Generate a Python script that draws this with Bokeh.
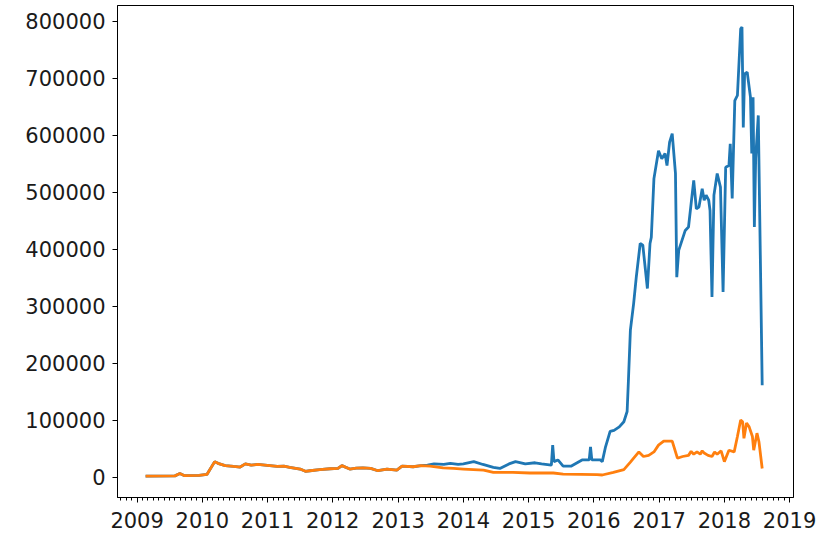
from datetime import datetime
from bokeh.plotting import figure
from bokeh.models import FixedTicker, DatetimeTickFormatter, Range1d
from bokeh.embed import file_html
from bokeh.resources import INLINE

# ---- data (x in decimal years) ----
orange_t = [2009.13, 2009.58, 2009.655, 2009.72, 2009.95, 2010.07, 2010.19, 2010.24,
            2010.35, 2010.48, 2010.58, 2010.66, 2010.75, 2010.85, 2010.96, 2011.15,
            2011.25, 2011.34, 2011.50, 2011.58, 2011.65, 2011.80, 2011.96, 2012.08,
            2012.14, 2012.26, 2012.36, 2012.46, 2012.58, 2012.69, 2012.83, 2012.98,
            2013.06, 2013.23, 2013.35, 2013.49, 2013.69, 2013.85, 2014.00, 2014.31,
            2014.46, 2014.76, 2015.02, 2015.38, 2015.53, 2015.80, 2016.05, 2016.13,
            2016.30, 2016.46, 2016.56, 2016.61, 2016.69, 2016.76, 2016.84, 2016.92,
            2016.99, 2017.07, 2017.20, 2017.28, 2017.36, 2017.45, 2017.49, 2017.53,
            2017.58, 2017.63, 2017.66, 2017.69, 2017.75, 2017.81, 2017.85, 2017.89,
            2017.95, 2018.00, 2018.07, 2018.15, 2018.20, 2018.25, 2018.28, 2018.30,
            2018.34, 2018.38, 2018.43, 2018.45, 2018.50, 2018.53, 2018.58]
orange_v = [1500, 2000, 6000, 2500, 3000, 4500, 27000, 24000,
            20000, 18500, 17500, 23000, 21000, 22000, 21000, 18500,
            19000, 17000, 14000, 10000, 11000, 13000, 14500, 15000,
            20000, 14000, 15500, 16000, 15000, 11000, 14000, 12000,
            19000, 18000, 20000, 19000, 16000, 15000, 14000, 12000,
            8000, 8000, 7000, 7000, 5000, 4500, 4000, 3500,
            8000, 13000, 26000, 33000, 44000, 36000, 38000, 44000,
            56000, 63000, 63000, 33000, 36000, 38000, 45000, 40000,
            44000, 40000, 46000, 42000, 38000, 36000, 44000, 40000,
            46000, 27000, 47000, 44000, 71000, 100000, 97000, 68000,
            95000, 88000, 71000, 47000, 77000, 62000, 15000]

blue_t = [2009.13, 2009.58, 2009.655, 2009.72, 2009.95, 2010.07, 2010.19, 2010.24,
          2010.35, 2010.48, 2010.58, 2010.66, 2010.75, 2010.85, 2010.96, 2011.15,
          2011.25, 2011.34, 2011.50, 2011.58, 2011.65, 2011.80, 2011.96, 2012.08,
          2012.14, 2012.26, 2012.36, 2012.46, 2012.58, 2012.69, 2012.83, 2012.98,
          2013.06, 2013.23, 2013.35, 2013.45, 2013.55, 2013.70, 2013.80, 2013.92,
          2014.00, 2014.16, 2014.30, 2014.46, 2014.56, 2014.70, 2014.80, 2014.95,
          2015.10, 2015.20, 2015.35, 2015.37, 2015.39, 2015.45, 2015.53, 2015.65,
          2015.82, 2015.93, 2015.95, 2015.97, 2016.10, 2016.13, 2016.18, 2016.25,
          2016.31, 2016.39, 2016.46, 2016.51, 2016.53, 2016.56, 2016.61, 2016.65,
          2016.71, 2016.75, 2016.82, 2016.86, 2016.88, 2016.92, 2016.99, 2017.04,
          2017.09, 2017.12, 2017.16, 2017.20, 2017.25, 2017.27, 2017.30, 2017.40,
          2017.45, 2017.53, 2017.57, 2017.61, 2017.66, 2017.69, 2017.72, 2017.76,
          2017.78, 2017.81, 2017.84, 2017.89, 2017.94, 2017.98, 2018.02, 2018.07,
          2018.09, 2018.12, 2018.16, 2018.20, 2018.25, 2018.27, 2018.29, 2018.31,
          2018.35, 2018.40, 2018.42, 2018.44, 2018.46, 2018.48, 2018.52, 2018.58]
blue_v = [1500, 2000, 6000, 2500, 3000, 4500, 27000, 24000,
          20000, 18500, 17500, 23000, 21000, 22000, 21000, 18500,
          19000, 17000, 14000, 10000, 11000, 13000, 14500, 15000,
          20000, 14000, 15500, 16000, 15000, 11000, 14000, 12000,
          19000, 18000, 20000, 21000, 23000, 22000, 24000, 22000,
          23000, 27000, 22000, 17000, 15000, 23000, 27000, 23000,
          25000, 23000, 21000, 56000, 27000, 30000, 19000, 19000,
          30000, 30000, 53000, 30000, 30000, 27000, 53000, 80000,
          82000, 88000, 97000, 115000, 170000, 258000, 305000, 351000,
          410000, 407000, 331000, 410000, 421000, 524000, 573000, 559000,
          568000, 547000, 588000, 603000, 533000, 351000, 398000, 433000,
          439000, 521000, 471000, 474000, 506000, 486000, 495000, 486000,
          468000, 316000, 495000, 533000, 509000, 325000, 544000, 547000,
          585000, 489000, 661000, 670000, 787000, 790000, 614000, 708000,
          711000, 667000, 568000, 667000, 439000, 560000, 635000, 161000]

year_ticks = list(range(2009, 2020))
y_ticks = [0, 100000, 200000, 300000, 400000, 500000, 600000, 700000, 800000]


def to_dt(y):
    yi = int(y)
    start = datetime(yi, 1, 1)
    end = datetime(yi + 1, 1, 1)
    return start + (end - start) * (y - yi)


def ms(d):
    return (d - datetime(1970, 1, 1)).total_seconds() * 1000.0


p = figure(width=827, height=541, x_axis_type="datetime",
           output_backend="svg", toolbar_location=None,
           x_range=Range1d(ms(to_dt(2008.70)), ms(to_dt(2019.06))),
           y_range=Range1d(-36000, 828000),
           min_border_left=117, min_border_right=34,
           min_border_top=5, min_border_bottom=44)

p.line([to_dt(t) for t in blue_t], blue_v, line_color="#1f77b4", line_width=2.8)
p.line([to_dt(t) for t in orange_t], orange_v, line_color="#ff7f0e", line_width=2.8)

major = [ms(datetime(y, 1, 1)) for y in year_ticks]
minor = [ms(datetime(y, m, 1)) for y in range(2008, 2020) for m in range(1, 13)]
p.xaxis.ticker = FixedTicker(ticks=major, minor_ticks=minor)
p.xaxis.formatter = DatetimeTickFormatter(years="%Y", months="%Y", days="%Y",
                                          hours="%Y", minutes="%Y", seconds="%Y",
                                          milliseconds="%Y", microseconds="%Y")
p.yaxis.ticker = FixedTicker(ticks=y_ticks)
p.yaxis.formatter.use_scientific = False

p.xgrid.visible = False
p.ygrid.visible = False
p.outline_line_color = "black"
p.outline_line_width = 1
p.outline_line_alpha = 1

for ax in (p.xaxis[0], p.yaxis[0]):
    ax.axis_line_color = "black"
    ax.major_tick_line_color = "black"
    ax.minor_tick_line_color = "black"
    ax.major_tick_out = 5
    ax.major_tick_in = 0
    ax.minor_tick_out = 3
    ax.minor_tick_in = 0
    ax.major_label_text_font = "DejaVu Sans"
    ax.major_label_text_font_size = "21px"
    ax.major_label_text_color = "#1a1a1a"
p.yaxis.minor_tick_line_color = None
p.xaxis.major_label_standoff = 9
p.yaxis.major_label_standoff = 7

open("out.html", "w").write(file_html(p, INLINE))
